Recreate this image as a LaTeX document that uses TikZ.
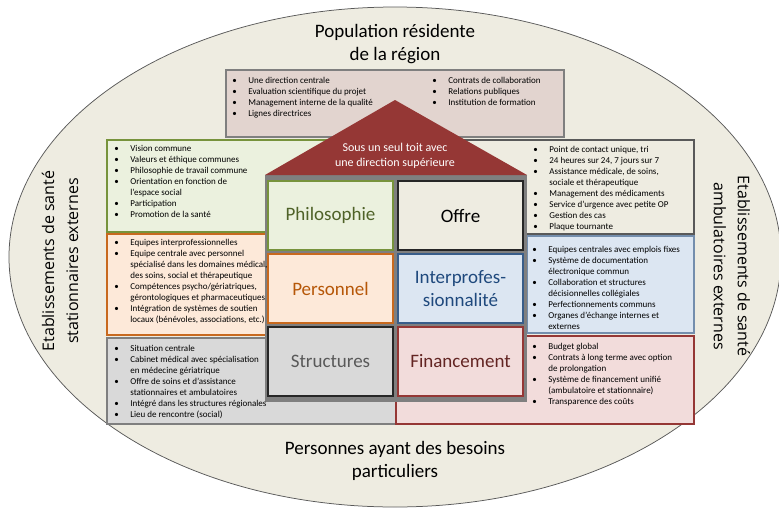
\documentclass[tikz,border=0pt]{standalone}
\usepackage{fontspec}
\setmainfont{Carlito}
\newfontfamily\sidefont{Open Sans}

\definecolor{fondovale}{HTML}{EEECE1}
\definecolor{bordovale}{HTML}{595959}
\definecolor{fondhaut}{HTML}{E2D4CF}
\definecolor{toit}{HTML}{953735}
\definecolor{maison}{HTML}{7F7F7F}
\definecolor{vertfond}{HTML}{EBF1DE}
\definecolor{vertbord}{HTML}{77933C}
\definecolor{verttexte}{HTML}{4F6228}
\definecolor{orfond}{HTML}{FDE9D9}
\definecolor{orbord}{HTML}{C8691E}
\definecolor{ortexte}{HTML}{B65708}
\definecolor{bleufond}{HTML}{DCE6F2}
\definecolor{bleubord}{HTML}{385D8A}
\definecolor{bleutexte}{HTML}{1F497D}
\definecolor{grisfond}{HTML}{D9D9D9}
\definecolor{gristexte}{HTML}{595959}
\definecolor{rougefond}{HTML}{F2DCDB}
\definecolor{rougetexte}{HTML}{632523}

\tikzset{every picture/.style={line width=0.75pt}}
\tikzset{
  boite/.style={line width=1.2pt},
  cellule/.style={line width=1.6pt, font=\fontsize{19}{23}\selectfont, align=center, minimum width=125pt, minimum height=69pt, inner sep=0pt},
  liste/.style={anchor=north west, inner sep=0pt, font=\fontsize{9}{11}\selectfont},
  titre/.style={font=\fontsize{19}{23}\selectfont, align=center},
  cote/.style={font=\sidefont\fontsize{16}{24}\selectfont, align=center}
}

\begin{document}
\begin{tikzpicture}[x=1pt,y=1pt,yscale=-1,xscale=1]
\useasboundingbox (0,0) rectangle (779,509);

%Shape: Ellipse [fond]
\draw [draw=bordovale, fill=fondovale] (395,257) ellipse (386 and 250);

%Shape: Rectangle [direction]
\draw [boite, draw=maison, fill=fondhaut] (226,70) rectangle (564,137);

%Shape: Rectangle [philosophie, liste]
\draw [boite, draw=vertbord, fill=vertfond] (107,140) rectangle (396,232);
%Shape: Rectangle [personnel, liste]
\draw [boite, draw=orbord, fill=orfond] (107,234) rectangle (330,335);
%Shape: Rectangle [structures, liste]
\draw [boite, draw=maison, fill=grisfond] (107,338) rectangle (396,424);
%Shape: Rectangle [offre, liste]
\draw [boite, draw=bordovale, fill=fondovale] (396,140) rectangle (694,234);
%Shape: Rectangle [interprofessionnalite, liste]
\draw [boite, draw=bleubord!70, fill=bleufond] (527,236) rectangle (694,333);
%Shape: Rectangle [financement, liste]
\draw [boite, draw=toit, fill=rougefond] (396,336) rectangle (694,424);

%Shape: Rectangle [corps de la maison]
\fill [maison] (265,175) rectangle (527,402);
%Shape: Triangle [toit]
\fill [toit] (265,175) -- (395,100) -- (527,175) -- cycle;

% Text Node
\draw (395,155.5) node (toitxt) [text=white, font=\fontsize{12}{15}\selectfont, align=center] {Sous un seul toit avec\\une direction supérieure};

% Cellules
\draw (330.5,215.5) node (philo) [cellule, draw=vertbord, fill=vertfond, text=verttexte] {Philosophie};
\draw (460.5,215.5) node (offre) [cellule, draw=black!85, fill=fondovale, text=black] {Offre};
\draw (330.5,288.5) node (perso) [cellule, draw=orbord, fill=orfond, text=ortexte] {Personnel};
\draw (460.5,288.5) node (inter) [cellule, draw=bleubord, fill=bleufond, text=bleutexte] {Interprofes-\\sionnalité};
\draw (330.5,361.5) node (struct) [cellule, draw=black!85, fill=grisfond, text=gristexte] {Structures};
\draw (460.5,361.5) node (finan) [cellule, draw=toit, fill=rougefond, text=rougetexte] {Financement};

% Text Node
\draw (232,75) node (dirg) [liste] {\begin{tabular}{@{}p{16pt}@{}l@{}}
\textbullet & Une direction centrale\\
\textbullet & Evaluation scientifique du projet\\
\textbullet & Management interne de la qualité\\
\textbullet & Lignes directrices
\end{tabular}};
% Text Node
\draw (432,75) node (dird) [liste] {\begin{tabular}{@{}p{16pt}@{}l@{}}
\textbullet & Contrats de collaboration\\
\textbullet & Relations publiques\\
\textbullet & Institution de formation
\end{tabular}};
% Text Node
\draw (114,143) node (lphilo) [liste] {\begin{tabular}{@{}p{16pt}@{}l@{}}
\textbullet & Vision commune\\
\textbullet & Valeurs et éthique communes\\
\textbullet & Philosophie de travail commune\\
\textbullet & Orientation en fonction de\\
 & l'espace social\\
\textbullet & Participation\\
\textbullet & Promotion de la santé
\end{tabular}};
% Text Node
\draw (114,237) node (lperso) [liste] {\begin{tabular}{@{}p{16pt}@{}l@{}}
\textbullet & Equipes interprofessionnelles\\
\textbullet & Equipe centrale avec personnel\\
 & spécialisé dans les domaines médical,\\
 & des soins, social et thérapeutique\\
\textbullet & Compétences psycho/gériatriques,\\
 & gérontologiques et pharmaceutiques\\
\textbullet & Intégration de systèmes de soutien\\
 & locaux (bénévoles, associations, etc.)
\end{tabular}};
% Text Node
\draw (114,343) node (lstruct) [liste] {\begin{tabular}{@{}p{16pt}@{}l@{}}
\textbullet & Situation centrale\\
\textbullet & Cabinet médical avec spécialisation\\
 & en médecine gériatrique\\
\textbullet & Offre de soins et d'assistance\\
 & stationnaires et ambulatoires\\
\textbullet & Intégré dans les structures régionales\\
\textbullet & Lieu de rencontre (social)
\end{tabular}};
% Text Node
\draw (533,144) node (loffre) [liste] {\begin{tabular}{@{}p{16pt}@{}l@{}}
\textbullet & Point de contact unique, tri\\
\textbullet & 24 heures sur 24, 7 jours sur 7\\
\textbullet & Assistance médicale, de soins,\\
 & sociale et thérapeutique\\
\textbullet & Management des médicaments\\
\textbullet & Service d'urgence avec petite OP\\
\textbullet & Gestion des cas\\
\textbullet & Plaque tournante
\end{tabular}};
% Text Node
\draw (532,244) node (linter) [liste] {\begin{tabular}{@{}p{16pt}@{}l@{}}
\textbullet & Equipes centrales avec emplois fixes\\
\textbullet & Système de documentation\\
 & électronique commun\\
\textbullet & Collaboration et structures\\
 & décisionnelles collégiales\\
\textbullet & Perfectionnements communs\\
\textbullet & Organes d'échange internes et\\
 & externes
\end{tabular}};
% Text Node
\draw (532,341) node (lfinan) [liste] {\begin{tabular}{@{}p{16pt}@{}l@{}}
\textbullet & Budget global\\
\textbullet & Contrats à long terme avec option\\
 & de prolongation\\
\textbullet & Système de financement unifié\\
 & (ambulatoire et stationnaire)\\
\textbullet & Transparence des coûts
\end{tabular}};

% Text Node
\draw (395,44) node (popul) [titre] {Population résidente\\de la région};
% Text Node
\draw (395,461) node (besoins) [titre] {Personnes ayant des besoins\\particuliers};
% Text Node
\draw (60,261) node (statio) [cote, rotate=90] {Etablissements de santé\\stationnaires externes};
% Text Node
\draw (732,266) node (ambu) [cote, rotate=-90] {Etablissements de santé\\ambulatoires externes};

\end{tikzpicture}
\end{document}
